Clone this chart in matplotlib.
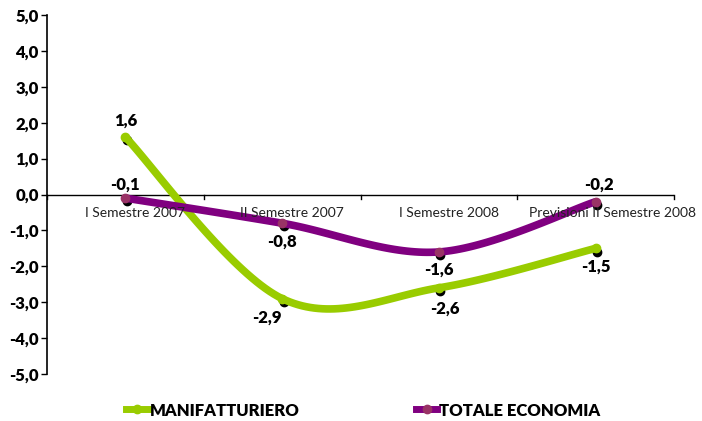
import matplotlib.pyplot as plt
import numpy as np

categories = ["I Semestre 2007", "II Semestre 2007", "I Semestre 2008",
              "Previsioni II Semestre 2008"]
manifatturiero = [1.6, -2.9, -2.6, -1.5]
totale = [-0.1, -0.8, -1.6, -0.2]
y_ticks = [5, 4, 3, 2, 1, 0, -1, -2, -3, -4, -5]

GREEN = "#99CC00"
PURPLE = "#800080"
PURPLE_MK = "#993366"

plt.rcParams['font.family'] = ['Lato', 'DejaVu Sans']


def smooth(xs, ys, n=40):
    # Catmull-Rom style smoothing like Excel's smoothed line
    x = np.asarray(xs, float)
    y = np.asarray(ys, float)
    px = np.concatenate([[x[0]], x, [x[-1]]])
    py = np.concatenate([[y[0]], y, [y[-1]]])
    ox, oy = [], []
    for i in range(1, len(px) - 2):
        t = np.linspace(0, 1, n)
        for arr, out in ((px, ox), (py, oy)):
            p0, p1, p2, p3 = arr[i - 1], arr[i], arr[i + 1], arr[i + 2]
            out.extend(0.5 * ((2 * p1) + (-p0 + p2) * t
                              + (2 * p0 - 5 * p1 + 4 * p2 - p3) * t ** 2
                              + (-p0 + 3 * p1 - 3 * p2 + p3) * t ** 3))
    return ox, oy


fig = plt.figure(figsize=(7.02, 4.21), dpi=100)
ax = fig.add_axes([47 / 702, 1 - 374 / 421, 627 / 702, 359 / 421])

x = np.arange(len(categories)) + 0.5

for vals, col, mk in ((manifatturiero, GREEN, GREEN), (totale, PURPLE, PURPLE_MK)):
    sx, sy = smooth(x, vals)
    ax.plot(sx, sy, color=col, lw=5.5, solid_capstyle='round', zorder=3)
    ax.plot(x + 0.01, np.array(vals) - 0.09, 'o', color='black', ms=6, zorder=2)
    ax.plot(x, vals, 'o', color=mk, ms=6, zorder=4)

# data labels
g_off = [(0.0, 12), (-0.1, -14), (0.04, -15), (0.0, -13)]
p_off = [(0.0, 10), (0.0, -13), (0.0, -13), (0.02, 12)]
for vals, offs in ((manifatturiero, g_off), (totale, p_off)):
    for xi, v, (dx, dy) in zip(x, vals, offs):
        ax.annotate(f"{v:.1f}".replace(".", ","), (xi + dx, v), xytext=(0, dy),
                    textcoords='offset points', ha='center', va='center',
                    fontsize=12, fontweight='heavy', zorder=5)

ax.set_xlim(0, len(categories))
ax.set_ylim(-5, 5)
ax.set_yticks(y_ticks)
ax.set_yticklabels([f"{t:.1f}".replace(".", ",") for t in y_ticks],
                   fontsize=12, fontweight='heavy')
ax.tick_params(axis='y', length=4, width=1, pad=2)

ax.spines[['top', 'right', 'bottom']].set_visible(False)
ax.spines['left'].set_linewidth(1.2)
ax.axhline(0, color='black', lw=1, zorder=1)
ax.set_xticks([])
for i in range(len(categories) + 1):
    ax.plot([i, i], [0, -0.13], color='black', lw=1, clip_on=False)
label_shift = [7, 7, 7, 12]  # points, category labels sit a little right
for xi, c, s in zip(x, categories, label_shift):
    ax.annotate(c, (xi, -0.52), xytext=(s, 0), textcoords='offset points',
                ha='center', va='center', fontsize=10, color='#222222')

# legend
fig.add_artist(plt.Line2D([126 / 702, 148 / 702], [1 - 409 / 421] * 2, color=GREEN, lw=5))
fig.add_artist(plt.Line2D([137 / 702], [1 - 409 / 421], marker='o', color=GREEN, ms=6))
fig.text(150 / 702, 1 - 411 / 421, "MANIFATTURIERO", fontsize=12, fontweight='heavy', va='center')
fig.add_artist(plt.Line2D([416 / 702, 437 / 702], [1 - 409 / 421] * 2, color=PURPLE, lw=5))
fig.add_artist(plt.Line2D([427 / 702], [1 - 409 / 421], marker='o', color=PURPLE_MK, ms=6))
fig.text(439 / 702, 1 - 411 / 421, "TOTALE ECONOMIA", fontsize=12, fontweight='heavy', va='center')

fig.savefig("out.png", dpi=100)
